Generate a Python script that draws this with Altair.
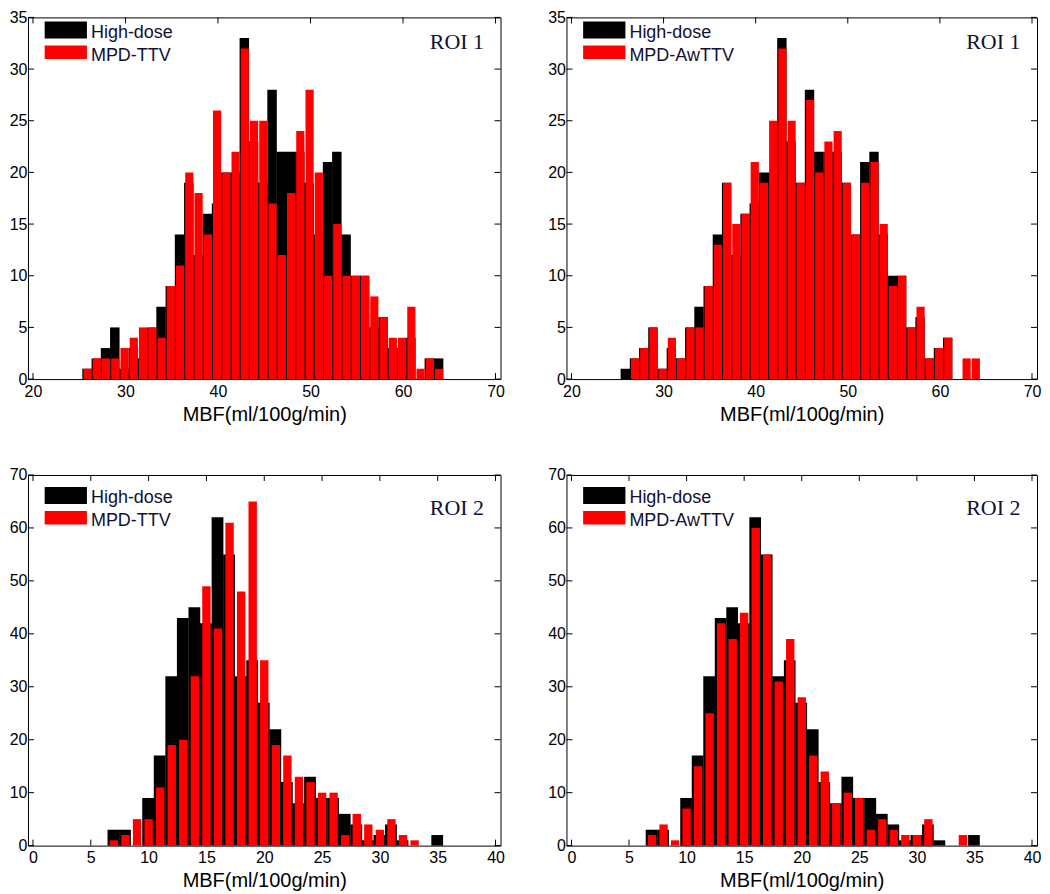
import altair as alt
import pandas as pd

# ---------------- data ----------------
# ROI 1 histograms: bin centres start at 25.9 with a width of 1 ml/100g/min
roi1_first_center = 25.9
roi1_bin_width = 1.0
roi1_n_bins = 39
# panel "High-dose vs MPD-TTV"
roi1_high_dose_a = [1, 2, 3, 5, 1, 3, 2, 5, 7, 9, 14, 19, 12, 16, 17, 20, 20, 33, 23, 19,
                    28, 22, 22, 22, 19, 14, 21, 22, 14, 10, 10, 5, 6, 3, 3, 4, 0, 2, 2]
roi1_mpd_ttv = [1, 2, 2, 2, 3, 4, 5, 5, 4, 9, 11, 20, 18, 14, 26, 20, 22, 32, 25, 25,
                17, 12, 18, 24, 28, 20, 10, 15, 10, 10, 10, 8, 6, 4, 4, 7, 1, 2, 1]
# panel "High-dose vs MPD-AwTTV"
roi1_high_dose_b = [1, 2, 3, 5, 1, 3, 2, 5, 7, 9, 14, 19, 12, 16, 17, 20, 20, 33, 23, 19,
                    28, 22, 22, 22, 19, 14, 21, 22, 14, 10, 10, 5, 6, 2, 3, 4, 0, 0, 0]
roi1_mpd_awttv = [0, 2, 3, 5, 1, 4, 2, 5, 5, 9, 13, 19, 15, 16, 21, 19, 25, 32, 25, 19,
                  27, 20, 23, 24, 19, 14, 19, 21, 15, 9, 10, 5, 7, 2, 3, 4, 0, 2, 2]

# ROI 2 histograms: bin centres 7 .. 35
roi2_first_center = 7.0
roi2_bin_width = 1.0
roi2_n_bins = 29
roi2_high_dose = [3, 3, 0, 9, 17, 32, 43, 45, 42, 62, 55, 32, 35, 27, 22, 12, 8, 13, 9, 9,
                  6, 4, 1, 2, 4, 1, 0, 0, 2]
roi2_mpd_ttv = [1, 2, 5, 5, 11, 19, 20, 32, 49, 41, 61, 48, 65, 35, 19, 17, 13, 12, 10, 10,
                2, 6, 4, 3, 5, 2, 1, 0, 0]
roi2_mpd_awttv = [2, 4, 1, 7, 15, 25, 42, 39, 44, 60, 55, 31, 39, 28, 17, 14, 8, 10, 9, 3,
                  5, 3, 2, 2, 5, 0, 0, 2, 0]

roi1_x_ticks = [20, 30, 40, 50, 60, 70]
roi1_y_ticks = [0, 5, 10, 15, 20, 25, 30, 35]
roi2_x_ticks = [0, 5, 10, 15, 20, 25, 30, 35, 40]
roi2_y_ticks = [0, 10, 20, 30, 40, 50, 60, 70]

series_names = ["High-dose", "MPD-TTV", "MPD-AwTTV"]
roi_names = ["ROI 1", "ROI 2"]
x_title = "MBF(ml/100g/min)"

SANS = "Liberation Sans"
SERIF = "Liberation Serif"


def centers(first, width, n):
    return [first + i * width for i in range(n)]


def panel(cen, black, red, red_name, roi, xdom, ydom, xticks, yticks,
          W, H, black_px, red_px, shift):
    dfb = pd.DataFrame({"MBF": cen, "count": black})
    dfb = dfb[dfb["count"] > 0]
    dfr = pd.DataFrame({"MBF": cen, "count": red})
    dfr = dfr[dfr["count"] > 0]

    x = alt.X("MBF:Q",
              scale=alt.Scale(domain=xdom, nice=False, zero=False),
              axis=alt.Axis(values=xticks, ticks=False, domain=False, grid=False,
                            labelPadding=4, labelFontSize=16, labelFont=SANS,
                            title=x_title, titlePadding=5, titleFontSize=20,
                            titleFont=SANS, titleFontWeight="normal"))
    y = alt.Y("count:Q",
              scale=alt.Scale(domain=ydom, nice=False),
              axis=alt.Axis(values=yticks, ticks=False, domain=False, grid=False,
                            labelPadding=1, labelFontSize=16, labelFont=SANS,
                            title=None))

    dxt = pd.DataFrame({"MBF": xticks})
    dyt = pd.DataFrame({"count": yticks})
    tk = 6
    ticks_bottom = alt.Chart(dxt).mark_rule(color="black", strokeWidth=1).encode(
        x=x, y=alt.value(H), y2=alt.value(H - tk))
    ticks_top = alt.Chart(dxt).mark_rule(color="black", strokeWidth=1).encode(
        x=x, y=alt.value(0), y2=alt.value(tk))
    ticks_left = alt.Chart(dyt).mark_rule(color="black", strokeWidth=1).encode(
        y=y, x=alt.value(0), x2=alt.value(tk))
    ticks_right = alt.Chart(dyt).mark_rule(color="black", strokeWidth=1).encode(
        y=y, x=alt.value(W - tk), x2=alt.value(W))

    bars_black = alt.Chart(dfb).mark_bar(color="black", size=black_px,
                                         orient="vertical", xOffset=-0.5).encode(x=x, y=y)
    bars_red = alt.Chart(dfr).mark_bar(color="#ff0000", size=red_px,
                                       orient="vertical").encode(x=x, y=y)

    dummy = alt.Data(values=[{}])
    sw_black = alt.Chart(dummy).mark_rect(color="black").encode(
        x=alt.value(16.7), x2=alt.value(59), y=alt.value(12 - shift), y2=alt.value(29 - shift))
    sw_red = alt.Chart(dummy).mark_rect(color="#ff0000").encode(
        x=alt.value(16.7), x2=alt.value(59), y=alt.value(36 - shift), y2=alt.value(49.5 - shift))
    t1 = alt.Chart(dummy).mark_text(text=series_names[0], align="left", baseline="alphabetic",
                                    font=SANS, fontSize=18, color="#111133").encode(
        x=alt.value(63), y=alt.value(28.5 - shift))
    t2 = alt.Chart(dummy).mark_text(text=red_name, align="left", baseline="alphabetic",
                                    font=SANS, fontSize=18, color="#111133").encode(
        x=alt.value(63), y=alt.value(51.5 - shift))
    roi_t = alt.Chart(dummy).mark_text(text=roi, align="right", baseline="alphabetic",
                                       font=SERIF, fontSize=22, color="#111133").encode(
        x=alt.value(W - 16.5), y=alt.value(40 - shift))

    return alt.layer(ticks_bottom, ticks_top, ticks_left, ticks_right,
                     bars_black, bars_red, sw_black, sw_red, t1, t2, roi_t).properties(
        width=W, height=H)


c1 = centers(roi1_first_center, roi1_bin_width, roi1_n_bins)
c2 = centers(roi2_first_center, roi2_bin_width, roi2_n_bins)

TOP_H = 362
TOP_SHIFT = 8
BOT_H = 371

p1 = panel(c1, roi1_high_dose_a, roi1_mpd_ttv, series_names[1], roi_names[0],
           [20, 70], [0, 35], roi1_x_ticks, roi1_y_ticks, 473, TOP_H, 9.5, 8.2, TOP_SHIFT)
p2 = panel(c1, roi1_high_dose_b, roi1_mpd_awttv, series_names[2], roi_names[0],
           [20, 70], [0, 35], roi1_x_ticks, roi1_y_ticks, 471, TOP_H, 9.4, 8.2, TOP_SHIFT)
p3 = panel(c2, roi2_high_dose, roi2_mpd_ttv, series_names[1], roi_names[1],
           [0, 40], [0, 70], roi2_x_ticks, roi2_y_ticks, 473, BOT_H, 11.8, 8.4, 0)
p4 = panel(c2, roi2_high_dose, roi2_mpd_awttv, series_names[2], roi_names[1],
           [0, 40], [0, 70], roi2_x_ticks, roi2_y_ticks, 471, BOT_H, 11.7, 8.4, 0)

top = alt.hconcat(p1, p2, spacing=41)
bottom = alt.hconcat(p3, p4, spacing=41)

chart = alt.vconcat(top, bottom, spacing=41).properties(padding=0).configure_view(
    stroke="black", strokeWidth=1).configure_axis(labelColor="black", titleColor="black")

chart.save("out.html", embed_options={"renderer": "svg", "actions": False})
